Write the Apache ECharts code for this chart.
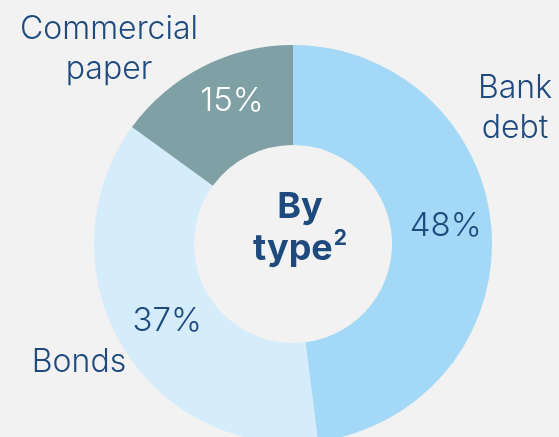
<!DOCTYPE html>
<html>
<head>
<meta charset="utf-8">
<script src="https://cdn.jsdelivr.net/npm/echarts@6/dist/echarts.min.js"></script>
<style>
  html, body {margin:0; padding:0; background:#f2f2f2;}
  #main {width:559px; height:437px;}
</style>
</head>
<body>
<div id="main"></div>
<script>
// data
var categories = ['Bank debt', 'Bonds', 'Commercial paper'];
var shares = [48, 37, 15];
var sliceColors = ['#a3d8f6', '#d5ecfa', '#7fa1a6'];
var labelColors = ['#1e4a7e', '#1e4a7e', '#ffffff'];
var labelNudge = [[1, -8], [5, 0], [8, -7]];   // small shifts of the % labels

// where the category names sit (two lines each)
var namePos = [
    {x: 515, y: 108, lines: ['Bank', 'debt']},
    {x: 79,  y: 362, lines: ['Bonds']},
    {x: 109, y: 49,  lines: ['Commercial', 'paper']}
];

var navy = '#1e4a7e';
var fontFam = 'Inter, "Open Sans", sans-serif';

var pieData = [];
for (var i = 0; i < categories.length; i++) {
    pieData.push({
        name: categories[i],
        value: shares[i],
        itemStyle: {color: sliceColors[i]},
        label: {color: labelColors[i], offset: labelNudge[i]}
    });
}

var graphics = [];
namePos.forEach(function (p) {
    graphics.push({
        type: 'text', x: p.x, y: p.y,
        style: {
            text: p.lines.join('\n'),
            fontFamily: fontFam, fontSize: 32, fontWeight: 300,
            fill: navy, align: 'center', verticalAlign: 'middle',
            lineHeight: 40
        }
    });
});
// centre title with a real superscript
graphics.push({
    type: 'text', x: 300, y: 228,
    style: {
        text: 'By\ntype{sup|2}',
        fontFamily: fontFam, fontSize: 36, fontWeight: 'bold',
        fill: navy, align: 'center', verticalAlign: 'middle',
        lineHeight: 42,
        rich: {
            sup: {fontFamily: fontFam, fontSize: 21, fontWeight: 'bold',
                  fill: navy, verticalAlign: 'top', lineHeight: 42, padding: [0, 0, 14, 1]}
        }
    }
});

var option = {
    backgroundColor: '#f2f2f2',
    animation: false,
    series: [{
        type: 'pie',
        center: [293, 244],
        radius: [99, 199],
        startAngle: 90,
        clockwise: true,
        label: {
            show: true,
            position: 'inside',
            formatter: '{c}%',
            fontSize: 33,
            fontWeight: 300,
            fontFamily: fontFam
        },
        labelLine: {show: false},
        emphasis: {disabled: true},
        data: pieData
    }],
    graphic: graphics
};

var myChart = echarts.init(document.getElementById('main'));
myChart.setOption(option);
</script>
</body>
</html>
